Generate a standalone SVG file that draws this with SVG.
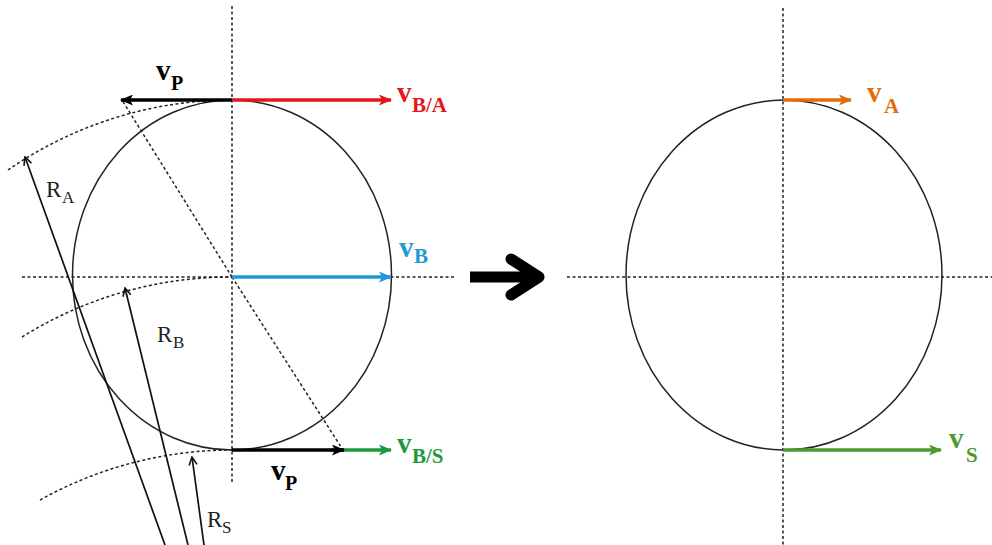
<svg xmlns="http://www.w3.org/2000/svg" width="992" height="545" viewBox="0 0 992 545">
<style>
.bg{fill:#ffffff}
.circ{fill:none;stroke:#222;stroke-width:1.5}
.dash{fill:none;stroke:#222;stroke-width:1.5;stroke-dasharray:3 2.5}
.rad{fill:none;stroke:#111;stroke-width:1.7}
.vec{fill:none;stroke-width:3.5}
.vl{font-family:"Liberation Serif","Times New Roman",serif;font-weight:bold}
.rl{font-family:"Liberation Serif","Times New Roman",serif;fill:#222}
</style>
<defs>
<marker id="ahK" viewBox="0 0 13 11" refX="12" refY="5.5" markerWidth="13" markerHeight="11" markerUnits="userSpaceOnUse" orient="auto"><path d="M0,0 L13,5.5 L0,11 L3,5.5 Z" fill="#000"/></marker>
<marker id="ahR" viewBox="0 0 13 11" refX="12" refY="5.5" markerWidth="13" markerHeight="11" markerUnits="userSpaceOnUse" orient="auto"><path d="M0,0 L13,5.5 L0,11 L3,5.5 Z" fill="#E3161E"/></marker>
<marker id="ahB" viewBox="0 0 13 11" refX="12" refY="5.5" markerWidth="13" markerHeight="11" markerUnits="userSpaceOnUse" orient="auto"><path d="M0,0 L13,5.5 L0,11 L3,5.5 Z" fill="#1C9AD6"/></marker>
<marker id="ahG" viewBox="0 0 13 11" refX="12" refY="5.5" markerWidth="13" markerHeight="11" markerUnits="userSpaceOnUse" orient="auto"><path d="M0,0 L13,5.5 L0,11 L3,5.5 Z" fill="#1E9A3E"/></marker>
<marker id="ahG2" viewBox="0 0 13 11" refX="12" refY="5.5" markerWidth="13" markerHeight="11" markerUnits="userSpaceOnUse" orient="auto"><path d="M0,0 L13,5.5 L0,11 L3,5.5 Z" fill="#4E9A2E"/></marker>
<marker id="ahO" viewBox="0 0 13 11" refX="12" refY="5.5" markerWidth="13" markerHeight="11" markerUnits="userSpaceOnUse" orient="auto"><path d="M0,0 L13,5.5 L0,11 L3,5.5 Z" fill="#E36C0A"/></marker>
<marker id="ahOpen" viewBox="0 0 10 10" refX="9" refY="5" markerWidth="10" markerHeight="10" markerUnits="userSpaceOnUse" orient="auto"><path d="M1,1 L9,5 L1,9" fill="none" stroke="#111" stroke-width="1.6"/></marker>
</defs>
<rect class="bg" x="0" y="0" width="992" height="545"/>

<g id="left-disc">
<line class="dash" x1="232" y1="6" x2="232" y2="484"/>
<line class="dash" x1="22" y1="277" x2="454" y2="277"/>
<ellipse class="circ" cx="232" cy="275" rx="159.5" ry="175"/>
<line class="dash" x1="232" y1="277" x2="122" y2="100"/>
<line class="dash" x1="232" y1="277" x2="343" y2="450"/>
</g>

<g id="radius-arcs">
<path class="dash" d="M8,170 A394,394 0 0 1 232,100"/>
<path class="dash" d="M22,337 A394,394 0 0 1 232,277"/>
<path class="dash" d="M40,500 A394,394 0 0 1 232,450"/>
</g>

<g id="right-disc">
<line class="dash" x1="783" y1="8" x2="783" y2="545"/>
<line class="dash" x1="567" y1="277" x2="992" y2="277"/>
<ellipse class="circ" cx="784" cy="275" rx="158" ry="175"/>
</g>

<g id="connectors">
<line class="rad" x1="165" y1="545" x2="25" y2="157" marker-end="url(#ahOpen)"/>
<line class="rad" x1="188" y1="545" x2="125" y2="288" marker-end="url(#ahOpen)"/>
<line class="rad" x1="204" y1="545" x2="192" y2="457" marker-end="url(#ahOpen)"/>
<line class="vec" stroke="#E3161E" x1="232" y1="100" x2="391" y2="100" marker-end="url(#ahR)"/>
<line class="vec" stroke="#000" x1="232" y1="100" x2="121" y2="100" marker-end="url(#ahK)"/>
<line class="vec" stroke="#1C9AD6" x1="232" y1="277" x2="391" y2="277" marker-end="url(#ahB)"/>
<line class="vec" stroke="#1E9A3E" x1="330" y1="450" x2="391" y2="450" marker-end="url(#ahG)"/>
<line class="vec" stroke="#000" x1="232" y1="450" x2="344" y2="450" marker-end="url(#ahK)"/>
<line class="vec" stroke="#E36C0A" x1="783" y1="100" x2="851" y2="100" marker-end="url(#ahO)"/>
<line class="vec" stroke="#4E9A2E" x1="783" y1="450" x2="941" y2="450" marker-end="url(#ahG2)"/>
<g id="transition-arrow" fill="none" stroke="#000" stroke-width="11">
<line x1="470" y1="277" x2="536" y2="277"/>
<path d="M511,259 L539,277 L511,295" stroke-linecap="round" stroke-linejoin="round"/>
</g>
</g>

<g id="labels">
<text class="vl" fill="#000" x="156" y="80" font-size="29">v<tspan x="171" y="90" font-size="20">P</tspan></text>
<text class="vl" fill="#E3161E" x="397" y="102" font-size="29">v<tspan x="412" y="112" font-size="21">B/A</tspan></text>
<text class="vl" fill="#1C9AD6" x="399" y="257" font-size="29">v<tspan x="414" y="263" font-size="21">B</tspan></text>
<text class="vl" fill="#1E9A3E" x="397" y="453" font-size="29">v<tspan x="412" y="463" font-size="21">B/S</tspan></text>
<text class="vl" fill="#000" x="271" y="480" font-size="29">v<tspan x="285" y="490" font-size="20">P</tspan></text>
<text class="vl" fill="#E36C0A" x="867" y="102" font-size="29">v<tspan x="884" y="113" font-size="21">A</tspan></text>
<text class="vl" fill="#4E9A2E" x="949" y="448" font-size="29">v<tspan x="966" y="462" font-size="21">S</tspan></text>
<text class="rl" x="46" y="197" font-size="23">R<tspan x="62" y="203" font-size="17">A</tspan></text>
<text class="rl" x="157" y="342" font-size="23">R<tspan x="173" y="348" font-size="17">B</tspan></text>
<text class="rl" x="207" y="527" font-size="23">R<tspan x="222" y="533" font-size="17">S</tspan></text>
</g>
</svg>
